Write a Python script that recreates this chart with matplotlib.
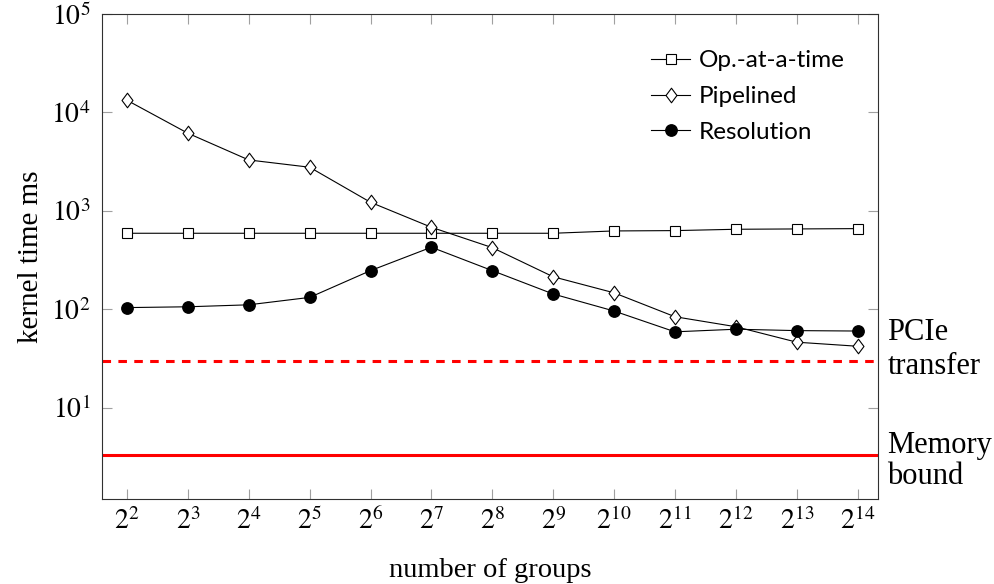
import matplotlib
matplotlib.use("Agg")
import matplotlib.pyplot as plt
import matplotlib.transforms as mtransforms
from matplotlib.path import Path

plt.rcParams['font.family'] = ['Liberation Serif', 'DejaVu Serif']
plt.rcParams['mathtext.fontset'] = 'stix'

# number of groups as powers of two
exponents = list(range(2, 15))
groups = [2 ** k for k in exponents]

# kernel time in ms
op_at_a_time = [592, 592, 592, 592, 592, 592, 592, 592, 625, 630, 650, 655, 660]
pipelined = [13300, 6150, 3290, 2775, 1222, 681, 423, 214, 147, 84, 66.5, 46.3, 42.1]
resolution = [104, 106, 111, 132, 247, 427, 247, 143, 96, 59, 62.7, 60.7, 60.1]

pcie_transfer = 30
memory_bound = 3.3

# diamond a bit wider than matplotlib's thin 'd'
diamond = Path([(0, 1), (0.75, 0), (0, -1), (-0.75, 0), (0, 1)],
               [Path.MOVETO, Path.LINETO, Path.LINETO, Path.LINETO, Path.CLOSEPOLY])

fig = plt.figure(figsize=(9.95, 5.84), dpi=100)
ax = fig.add_axes([0.1022, 0.145, 0.7802, 0.831])

line_kw = dict(color='black', linewidth=0.8)
ax.plot(groups, op_at_a_time, marker='s', markersize=7.2,
        markerfacecolor='white', markeredgecolor='black',
        markeredgewidth=0.8, label='Op.-at-a-time', **line_kw)
ax.plot(groups, pipelined, marker=diamond, markersize=10.5,
        markerfacecolor='white', markeredgecolor='black',
        markeredgewidth=0.8, label='Pipelined', **line_kw)
ax.plot(groups, resolution, marker='o', markersize=8.2,
        markerfacecolor='black', markeredgecolor='black',
        label='Resolution', **line_kw)

ax.axhline(pcie_transfer, color='#ff0000', linewidth=2.2,
           linestyle=(0, (2.8, 2.4)))
ax.axhline(memory_bound, color='#ff0000', linewidth=2.2)

ax.set_xscale('log', base=2)
ax.set_yscale('log')
ax.set_xlim(2 ** 1.585, 2 ** 14.335)
ax.set_ylim(10 ** 0.069, 1e5)

ax.set_xticks(groups)
ax.set_xticklabels([r'$2^{%d}$' % k for k in exponents])
ax.set_yticks([1e1, 1e2, 1e3, 1e4, 1e5])
ax.set_yticklabels([r'$10^{%d}$' % k for k in range(1, 6)])
ax.minorticks_off()

ax.tick_params(which='major', direction='in', length=7.5, width=0.8,
               color='#a0a0a0', top=True, right=True, labelsize=20)
ax.tick_params(axis='y', pad=8)
ax.tick_params(axis='x', pad=6)
for s in ax.spines.values():
    s.set_linewidth(0.8)
    s.set_color('#303030')

ax.set_xlabel('number of groups', fontsize=20.5, labelpad=16)
ax.set_ylabel('kernel time ms', fontsize=21, labelpad=5)

# annotations for the two reference lines, just right of the axes
trans = mtransforms.blended_transform_factory(ax.transAxes, ax.transData)
ax.annotate('PCIe\ntransfer', xy=(1.012, pcie_transfer), xycoords=trans,
            xytext=(0, 8), textcoords='offset points',
            ha='left', va='center', fontsize=22, linespacing=1.2)
ax.annotate('Memory\nbound', xy=(1.012, memory_bound), xycoords=trans,
            xytext=(0, -4.5), textcoords='offset points',
            ha='left', va='center', fontsize=22, linespacing=1.1)

ax.legend(loc='upper right', bbox_to_anchor=(0.985, 0.97), frameon=False,
          prop={'family': 'Lato', 'size': 17.5}, handlelength=1.6,
          handletextpad=0.35, labelspacing=0.6)

fig.savefig('out.png', dpi=100)
